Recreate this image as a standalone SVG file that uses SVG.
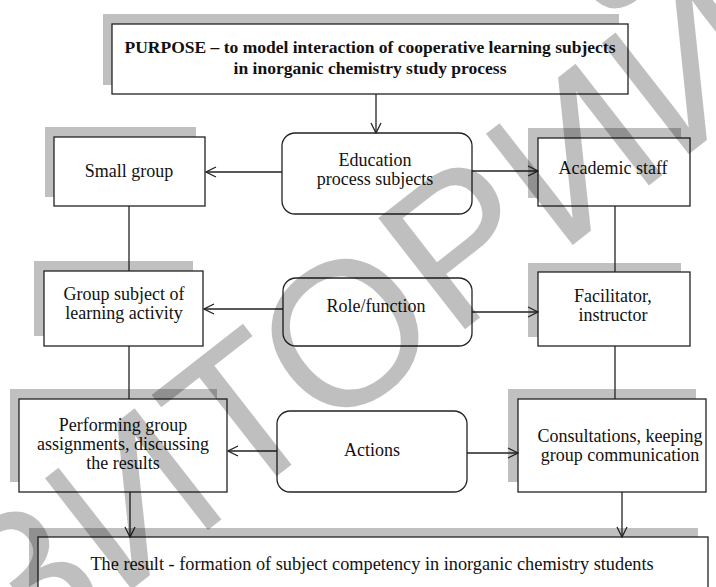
<svg xmlns="http://www.w3.org/2000/svg" width="716" height="587" viewBox="0 0 716 587">
<defs>
<style>
.shadow{fill:#c0c0c0;stroke:none}
.box{fill:#fff;stroke:#222;stroke-width:1.3}
.t{font-family:"Liberation Serif","Times New Roman",serif;font-size:18px;fill:#111;text-anchor:middle}
.tr{font-size:18.3px}
.tb{font-family:"Liberation Serif","Times New Roman",serif;font-size:17.5px;font-weight:bold;fill:#111;text-anchor:middle}
.c{stroke:#222;stroke-width:1.3;fill:none}
.wm{font-family:"Liberation Sans",Arial,sans-serif;font-size:205px;fill:#000;fill-opacity:0.25}
</style>
<marker id="ah" viewBox="0 0 12 12" refX="11" refY="6" markerWidth="12" markerHeight="12" markerUnits="userSpaceOnUse" orient="auto">
<path d="M1,1 L11,6 L1,11" fill="none" stroke="#222" stroke-width="1.3"/>
</marker>
</defs>
<rect width="716" height="587" fill="#fff"/>

<g id="purpose">
<rect class="shadow" x="103" y="14" width="516" height="71"/>
<rect class="box" x="112" y="24" width="516" height="70"/>
<text class="tb" x="370" y="53">PURPOSE – to model interaction of cooperative learning subjects</text>
<text class="tb" x="370" y="74">in inorganic chemistry study process</text>
</g>

<g id="education">
<rect class="box" x="282" y="133" width="190" height="81" rx="13"/>
<text class="t" x="375" y="166">Education</text>
<text class="t" x="375" y="185">process subjects</text>
</g>

<g id="small-group">
<rect class="shadow" x="45" y="127" width="151" height="70"/>
<rect class="box" x="54" y="137" width="151" height="69"/>
<text class="t" x="129" y="177">Small group</text>
</g>

<g id="academic-staff">
<rect class="shadow" x="528" y="128" width="153" height="70"/>
<rect class="box" x="538" y="138" width="152" height="68"/>
<text class="t" x="613" y="174">Academic staff</text>
</g>

<g id="group-subject">
<rect class="shadow" x="34" y="261" width="159" height="75"/>
<rect class="box" x="44" y="271" width="159" height="75"/>
<text class="t" x="124" y="300">Group subject of</text>
<text class="t" x="124" y="319">learning activity</text>
</g>

<g id="role">
<rect class="box" x="283" y="278" width="189" height="68" rx="13"/>
<text class="t" x="376" y="312">Role/function</text>
</g>

<g id="facilitator">
<rect class="shadow" x="528" y="263" width="153" height="74"/>
<rect class="box" x="538" y="272" width="152" height="74"/>
<text class="t" x="613" y="302">Facilitator,</text>
<text class="t" x="613" y="321">instructor</text>
</g>

<g id="performing">
<rect class="shadow" x="10" y="389" width="207" height="93"/>
<rect class="box" x="19" y="399" width="208" height="93"/>
<text class="t" x="123" y="431">Performing group</text>
<text class="t" x="123" y="450">assignments, discussing</text>
<text class="t" x="123" y="469">the results</text>
</g>

<g id="actions">
<rect class="box" x="277" y="411" width="190" height="81" rx="13"/>
<text class="t" x="372" y="456">Actions</text>
</g>

<g id="consultations">
<rect class="shadow" x="508" y="389" width="188" height="93"/>
<rect class="box" x="518" y="399" width="188" height="93"/>
<text class="t" x="620" y="442">Consultations, keeping</text>
<text class="t" x="620" y="461">group communication</text>
</g>

<g id="result">
<rect class="shadow" x="29" y="528" width="669" height="70"/>
<rect class="box" x="38" y="537" width="670" height="70"/>
<text class="t tr" x="372" y="570">The result - formation of subject competency in inorganic chemistry students</text>
</g>

<g id="connectors">
<path class="c" d="M376,94 V133" marker-end="url(#ah)"/>
<path class="c" d="M282,172 H206" marker-end="url(#ah)"/>
<path class="c" d="M472,171 H538" marker-end="url(#ah)"/>
<path class="c" d="M129,206 V271"/>
<path class="c" d="M615,206 V272"/>
<path class="c" d="M283,309 H204" marker-end="url(#ah)"/>
<path class="c" d="M472,312 H538" marker-end="url(#ah)"/>
<path class="c" d="M129,346 V399"/>
<path class="c" d="M615,346 V399"/>
<path class="c" d="M277,451 H228" marker-end="url(#ah)"/>
<path class="c" d="M467,453 H518" marker-end="url(#ah)"/>
<path class="c" d="M130,492 V537" marker-end="url(#ah)"/>
<path class="c" d="M622,492 V537" marker-end="url(#ah)"/>
</g>

<text class="wm" transform="translate(21,676) rotate(-38)">ЗИТОРИЙ</text>
</svg>
